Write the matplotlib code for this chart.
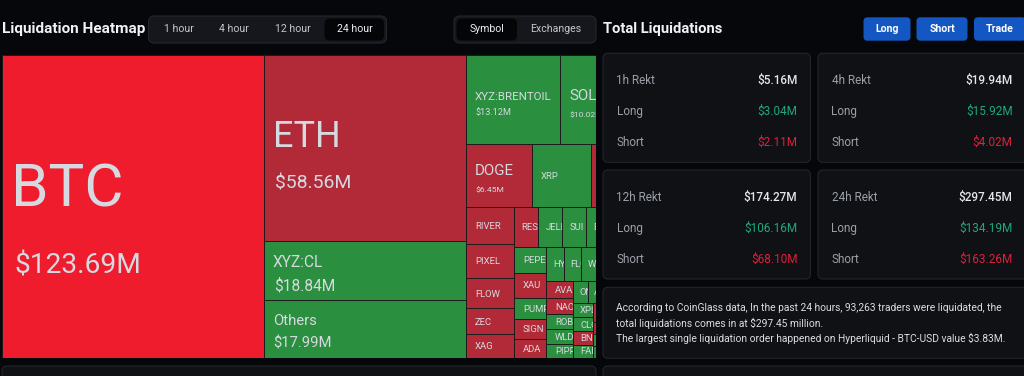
import math

import matplotlib

matplotlib.use("Agg")
import matplotlib.pyplot as plt
from matplotlib.font_manager import FontProperties
from matplotlib.patches import FancyBboxPatch, Rectangle
from matplotlib.textpath import TextPath

plt.rcParams["font.family"] = ["Roboto", "DejaVu Sans"]

W, H, DPI = 1024, 376, 100
PX = 72 / DPI  # points per pixel

# 24 hour liquidations per symbol, USD millions (sorted like the page does)
coins = [
    "BTC", "ETH", "XYZ:CL", "Others", "XYZ:BRENTOIL", "SOL", "DOGE", "XRP", "LINK",
    "RIVER", "PIXEL", "FLOW", "ZEC", "XAG",
    "RESOLV", "JELLYJELLY", "SUI", "ENA", "TAO",
    "PEPE", "XAU", "PUMP", "SIGN", "ADA",
    "HYPE", "FLOKI", "WIF", "LTC", "BCH",
    "AVAX", "NAORIS", "ROBO", "WLD", "PIPPIN",
    "ONDO", "AAVE", "ARB", "OP",
    "XPL", "CLO", "BNB", "FARTCOIN",
    "TRUMP", "NEAR", "APT", "TIA", "SEI", "INJ", "DOT", "UNI", "LDO", "ETC",
]
liq = [
    123.69, 58.56, 18.84, 17.99, 13.12, 10.02, 6.45, 5.75, 4.00,
    2.77, 2.55, 2.25, 1.95, 1.72,
    1.52, 1.50, 1.49, 1.46, 1.44,
    1.30, 1.28, 1.10, 1.00, 0.95,
    0.93, 0.92, 0.91, 0.90, 0.89,
    0.72, 0.67, 0.63, 0.59, 0.58,
    0.51, 0.50, 0.49, 0.48,
    0.45, 0.44, 0.42, 0.40,
    0.39, 0.38, 0.37, 0.36, 0.35, 0.34, 0.33, 0.32, 0.30, 0.18,
]
# 2 = heavy red, 1 = red, 0 = green
tone = [
    2, 1, 0, 0, 0, 0, 1, 0, 1,
    1, 1, 1, 1, 1,
    1, 0, 0, 0, 1,
    0, 1, 0, 1, 1,
    0, 0, 0, 0, 1,
    1, 1, 0, 0, 0,
    0, 0, 1, 0,
    0, 0, 1, 0,
    1, 0, 0, 1, 0, 0, 1, 0, 0, 1,
]

periods = ["1h", "4h", "12h", "24h"]
rekt_total = ["$5.16M", "$19.94M", "$174.27M", "$297.45M"]
rekt_long = ["$3.04M", "$15.92M", "$106.16M", "$134.19M"]
rekt_short = ["$2.11M", "$4.02M", "$68.10M", "$163.26M"]

time_tabs = ["1 hour", "4 hour", "12 hour", "24 hour"]
view_tabs = ["Symbol", "Exchanges"]
buttons = ["Long", "Short", "Trade"]

summary = [
    "According to CoinGlass data, In the past 24 hours, 93,263 traders were liquidated, the",
    "total liquidations comes in at $297.45 million.",
    "The largest single liquidation order happened on Hyperliquid - BTC-USD value $3.83M.",
]

BG = "#05070a"
CARD = "#0f1115"
CARD_EDGE = "#22252b"
TONE_COLORS = {2: "#ee1c2d", 1: "#b22a37", 0: "#2a8f3f"}
LABEL = "#d6d9e0"
GOLDEN = (1 + 5 ** 0.5) / 2


def worst(areas, fixed, ratio):
    s2 = sum(areas) ** 2
    f = fixed * fixed * ratio
    return max(f * max(areas) / s2, s2 / (f * min(areas)))


def place(row, areas, rect, fixed, flush, out):
    x, y, w, h = rect
    horizontal = fixed == w
    other = sum(areas[i] for i in row) / fixed
    span = h if horizontal else w
    if flush or other > span:
        other = span
    last = x if horizontal else y
    end = x + w if horizontal else y + h
    for k, i in enumerate(row):
        step = areas[i] / other
        remain = end - last
        size = remain if (k == len(row) - 1 or remain < step) else step
        out[i] = (last, y, size, other) if horizontal else (x, last, other, size)
        last += size
    if horizontal:
        return (x, y + other, w, h - other)
    return (x + other, y, w - other, h)


def squarify(values, width, height, ratio=GOLDEN):
    """Squarified treemap, golden ratio target (same idea as echarts)."""
    scale = width * height / sum(values)
    areas = [v * scale for v in values]
    out = [None] * len(values)
    rect = (0.0, 0.0, width, height)
    fixed = min(width, height)
    queue = list(range(len(values)))
    row, best = [], math.inf
    while queue:
        row.append(queue[0])
        score = worst([areas[i] for i in row], fixed, ratio)
        if score <= best:
            queue.pop(0)
            best = score
        else:
            row.pop()
            rect = place(row, areas, rect, fixed, False, out)
            fixed = min(rect[2], rect[3])
            row, best = [], math.inf
    if row:
        place(row, areas, rect, fixed, True, out)
    return out


FONT = FontProperties(family="Roboto")


def text_width(s, px):
    return TextPath((0, 0), s, size=px, prop=FONT).get_extents().width


def rbox(ax, x0, y0, x1, y1, fc, ec="none", r=5, lw=0.8, z=1):
    ax.add_patch(
        FancyBboxPatch(
            (x0, y0), x1 - x0, y1 - y0,
            boxstyle=f"round,pad=0,rounding_size={r}",
            facecolor=fc, edgecolor=ec, linewidth=lw, zorder=z,
        )
    )


fig = plt.figure(figsize=(W / DPI, H / DPI), dpi=DPI, facecolor=BG)

# page chrome in pixel coordinates
ui = fig.add_axes([0, 0, 1, 1])
ui.set_xlim(0, W)
ui.set_ylim(H, 0)
ui.axis("off")
ui.set_facecolor(BG)

ui.text(2, 29.5, "Liquidation Heatmap", fontsize=15.2 * PX, fontweight="bold",
        color="#f0f2f5", va="center", ha="left")
ui.text(603, 29.5, "Total Liquidations", fontsize=14.8 * PX, fontweight="bold",
        color="#f0f2f5", va="center", ha="left")

# time range tabs
rbox(ui, 148.5, 16, 386.5, 43, "#15171c", "#24272d", r=6)
rbox(ui, 324.5, 18.5, 384, 40.5, "#040507", r=5, z=2)
for label, cx in zip(time_tabs, [179, 234, 293, 354.5]):
    sel = label == "24 hour"
    ui.text(cx, 29.5, label, fontsize=10.5 * PX, color="#eceef2" if sel else "#c3c7cf",
            ha="center", va="center", zorder=3)

rbox(ui, 454, 16, 596, 43, "#15171c", "#24272d", r=6)
rbox(ui, 456.5, 18.5, 517, 40.5, "#040507", r=5, z=2)
for label, cx in zip(view_tabs, [486.7, 555.3]):
    ui.text(cx, 29.5, label, fontsize=10.5 * PX,
            color="#eceef2" if label == "Symbol" else "#c3c7cf",
            ha="center", va="center", zorder=3)

# blue buttons
for label, (x0, x1) in zip(buttons, [(863.5, 910.5), (916.5, 967.5), (974, 1026)]):
    rbox(ui, x0, 17.3, x1, 40.7, "#1557c2", r=4)
    ui.text((x0 + x1) / 2, 29.3, label, fontsize=10.5 * PX, fontweight="bold",
            color="white", ha="center", va="center", zorder=3)

# rekt cards
card_x = [603, 818]
card_y = [53.3, 170]
for k, p in enumerate(periods):
    x0 = card_x[k % 2]
    y0 = card_y[k // 2]
    rbox(ui, x0, y0, x0 + 207.5 if k % 2 == 0 else 1030, y0 + 109, CARD, CARD_EDGE, r=5)
    rows = [
        (f"{p} Rekt", rekt_total[k], "#e4e6ea", "medium"),
        ("Long", rekt_long[k], "#1ea97b", "normal"),
        ("Short", rekt_short[k], "#e11f3a", "normal"),
    ]
    for j, (name, val, col, wt) in enumerate(rows):
        yy = y0 + 27.5 + j * 30.8
        ui.text(x0 + 13.5, yy, name, fontsize=11.7 * PX, color="#9b9fa7",
                va="center", ha="left", zorder=3)
        ui.text(x0 + 194.5, yy, val, fontsize=11.7 * PX, color=col, fontweight=wt,
                va="center", ha="right", zorder=3)

rbox(ui, 603, 287.3, 1030, 358.3, CARD, CARD_EDGE, r=5)
for j, line in enumerate(summary):
    ui.text(616.5, 307.7 + j * 15.3, line, fontsize=10.25 * PX, color="#dcdee3",
            va="center", ha="left", zorder=3)

rbox(ui, 603, 366, 1030, 395, CARD, CARD_EDGE, r=5)
rbox(ui, 2, 366, 596, 395, CARD, CARD_EDGE, r=5)

# treemap: laid out wider than the visible container, which clips it at 596px
TREE_W, TREE_H, VISIBLE_W = 630.0, 302.5, 594.0
tm = fig.add_axes([2 / W, (H - 55 - TREE_H) / H, VISIBLE_W / W, TREE_H / H])
tm.set_xlim(0, VISIBLE_W)
tm.set_ylim(TREE_H, 0)
tm.axis("off")

cells = squarify(liq, TREE_W, TREE_H)
for name, v, t, (x, y, w, h) in zip(coins, liq, tone, cells):
    cell = Rectangle((x, y), w, h, facecolor=TONE_COLORS[t], edgecolor="#1d1a1c",
                     linewidth=0.7)
    tm.add_patch(cell)
    pad = min(9, 0.2 * w + 3)
    shown_w = min(w, VISIBLE_W - x)
    if shown_w <= pad:
        continue
    # labels are cut by their cell and by the container edge
    clip = Rectangle((x, y), shown_w, h, transform=tm.transData)
    area = w * h
    side = math.sqrt(area)
    show_val = area >= 3900
    flat = w > 2.5 * h
    if flat:
        name_px = val_px = 0.26 * h
    else:
        name_px = max(36 * (side / 193.7) ** 1.37, 15 if show_val else 9.5)
        val_px = max(0.1 * side, 8.5)
    tw = text_width(name, name_px)
    if tw > w - 2 * pad and name_px > 9.5:
        name_px = max(name_px * (w - 2 * pad) / tw, 9.5)
    cap_n = 0.71 * name_px
    if show_val:
        gap = 0.78 * name_px
        cap_v = 0.71 * val_px
        top = y + (h - (cap_n + gap + cap_v)) / 2 + 0.04 * h
        base_n = top + cap_n
        base_v = base_n + gap + cap_v
    else:
        base_n = y + (h + cap_n) / 2
    lbl = tm.text(x + pad, base_n, name, fontsize=name_px * PX, color=LABEL,
                  ha="left", va="baseline", clip_on=True)
    lbl.set_clip_path(clip)
    if show_val:
        vl = tm.text(x + pad + 0.05 * name_px, base_v, f"${v:.2f}M",
                     fontsize=val_px * PX, color=LABEL, ha="left", va="baseline",
                     clip_on=True)
        vl.set_clip_path(clip)

fig.savefig("out.png", dpi=DPI, facecolor=BG)
